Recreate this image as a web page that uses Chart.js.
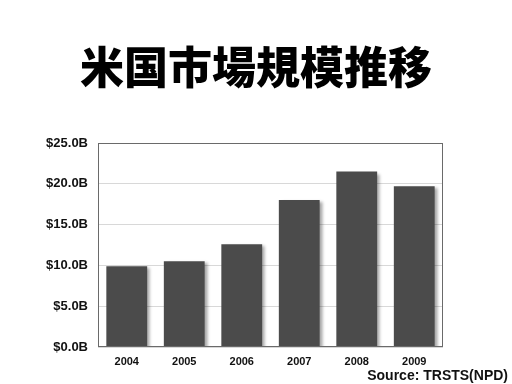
<!DOCTYPE html>
<html><head><meta charset="utf-8">
<script src="https://cdn.jsdelivr.net/npm/chart.js@4/dist/chart.umd.min.js"></script>
<style>
html,body{margin:0;padding:0;background:#fff;width:512px;height:384px;overflow:hidden;}
#title{position:absolute;left:0;top:38px;width:512px;text-align:center;font-family:"Noto Sans CJK JP";font-weight:900;font-size:44px;line-height:54px;color:#000;}
#src{position:absolute;right:4px;top:367px;font-family:"Liberation Sans",Arial,sans-serif;font-weight:bold;font-size:14px;color:#111;}
#wrap{position:absolute;left:0;top:0;width:512px;height:384px;}
</style></head><body>
<div id="wrap"><canvas id="c" width="512" height="384"></canvas></div>
<div id="title">米国市場規模推移</div>
<div id="src">Source: TRSTS(NPD)</div>
<script>
const categories = ["2004","2005","2006","2007","2008","2009"];
const marketSize = [9.9, 10.5, 12.6, 18.0, 21.5, 19.7];
const yTicks = [0, 5, 10, 15, 20, 25];

const shadowPlugin = {
  id:'shadow',
  beforeDatasetsDraw(chart){const c=chart.ctx;c.save();c.shadowColor='rgba(0,0,0,0.35)';c.shadowOffsetX=3;c.shadowOffsetY=2;c.shadowBlur=3;},
  afterDatasetsDraw(chart){chart.ctx.restore();}
};
const framePlugin = {
  id:'frame',
  afterDraw(chart){const a=chart.chartArea,c=chart.ctx;c.save();c.strokeStyle='#6a6a6a';c.lineWidth=1;
    c.strokeRect(Math.round(a.left)+0.5,Math.round(a.top)+0.5,Math.round(a.right-a.left)-1,Math.round(a.bottom-a.top)-1);c.restore();}
};

new Chart(document.getElementById('c'),{
  type:'bar',
  data:{labels:categories,datasets:[{data:marketSize,backgroundColor:'#4b4b4b',borderWidth:0,barPercentage:0.71,categoryPercentage:1}]},
  options:{
    responsive:false,animation:false,
    layout:{padding:{top:143,right:69,left:0,bottom:0}},
    plugins:{legend:{display:false},title:{display:false},tooltip:{enabled:false}},
    scales:{
      x:{grid:{display:false},border:{display:false},
         ticks:{color:'#111',font:{family:'"Liberation Sans",Arial',size:11,weight:'bold'},padding:0,maxRotation:0},
         afterFit(s){s.height=37;}},
      y:{min:0,max:25,
         afterBuildTicks(s){s.ticks=yTicks.map(v=>({value:v}));},
         ticks:{color:'#111',padding:10,font:{family:'"Liberation Sans",Arial',size:13,weight:'bold'},callback:v=>'$'+Number(v).toFixed(1)+'B'},
         grid:{color:'#d8d8d8',drawTicks:false},border:{display:false},
         afterFit(s){s.width=98;}}
    }
  },
  plugins:[shadowPlugin,framePlugin]
});
</script>
</body></html>
